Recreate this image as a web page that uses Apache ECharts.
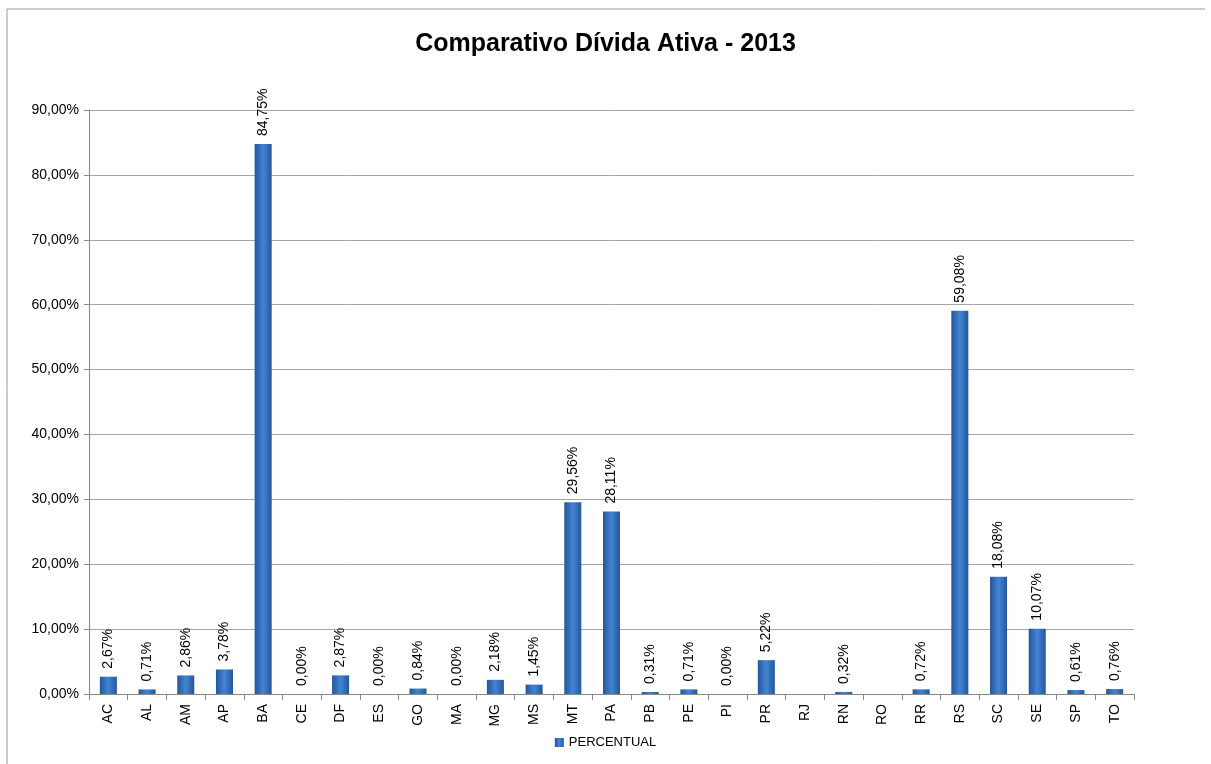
<!DOCTYPE html>
<html><head><meta charset="utf-8">
<script src="https://cdn.jsdelivr.net/npm/echarts@6/dist/echarts.min.js"></script>
<style>html,body{margin:0;padding:0;background:#fff}#c{width:1211px;height:764px}</style>
</head><body><div id="c"></div>
<script>
const categories = ['AC','AL','AM','AP','BA','CE','DF','ES','GO','MA','MG','MS','MT','PA','PB','PE','PI','PR','RJ','RN','RO','RR','RS','SC','SE','SP','TO'];
const percentual = [2.67,0.71,2.86,3.78,84.75,0.00,2.87,0.00,0.84,0.00,2.18,1.45,29.56,28.11,0.31,0.71,0.00,5.22,null,0.32,null,0.72,59.08,18.08,10.07,0.61,0.76];
const fmt = v => v.toFixed(2).replace('.', ',') + '%';
const FONT = 'Liberation Sans';
const chart = echarts.init(document.getElementById('c'));
chart.setOption({
  animation: false,
  textStyle: {fontFamily: FONT},
  title: {text: 'Comparativo Dívida Ativa - 2013', left: 'center', top: 27,
    textStyle: {fontSize: 25, fontWeight: 'bold', color: '#000', fontFamily: FONT}},
  legend: {bottom: 10, left: 'center', itemWidth: 9, itemHeight: 9, icon: 'rect',
    textStyle: {fontSize: 13, color: '#000'}, data: ['PERCENTUAL']},
  grid: {left: 89, right: 77, top: 110, bottom: 70, containLabel: false},
  xAxis: {type: 'category', data: categories, boundaryGap: true,
    axisLine: {lineStyle: {color: '#888'}},
    axisTick: {show: true, alignWithLabel: false, length: 6, lineStyle: {color: '#888'}},
    axisLabel: {rotate: 90, fontSize: 14, color: '#000', margin: 10}},
  yAxis: {type: 'value', min: 0, max: 90, interval: 10,
    axisLine: {show: true, lineStyle: {color: '#888'}},
    axisTick: {show: true, length: 5, lineStyle: {color: '#888'}},
    splitLine: {lineStyle: {color: '#a6a6a6'}},
    axisLabel: {formatter: v => fmt(v), fontSize: 14, color: '#000', margin: 10}},
  series: [{
    name: 'PERCENTUAL', type: 'bar', data: percentual, barWidth: '44%',
    itemStyle: {
      color: new echarts.graphic.LinearGradient(0, 0, 1, 0, [
        {offset: 0, color: '#24569c'}, {offset: 0.5, color: '#4384d4'}, {offset: 1, color: '#24569c'}]),
      borderWidth: 0
    },
    label: {show: true, position: 'top', rotate: 90, align: 'left', verticalAlign: 'middle',
      distance: 8, fontSize: 14, color: '#000', formatter: p => p.value == null ? '' : fmt(p.value)}
  }],
  graphic: [
    {type: 'line', shape: {x1: 7, y1: 9, x2: 1205, y2: 9}, style: {stroke: '#999', lineWidth: 1}},
    {type: 'line', shape: {x1: 7, y1: 9, x2: 7, y2: 764}, style: {stroke: '#999', lineWidth: 1}}
  ]
});
</script></body></html>
